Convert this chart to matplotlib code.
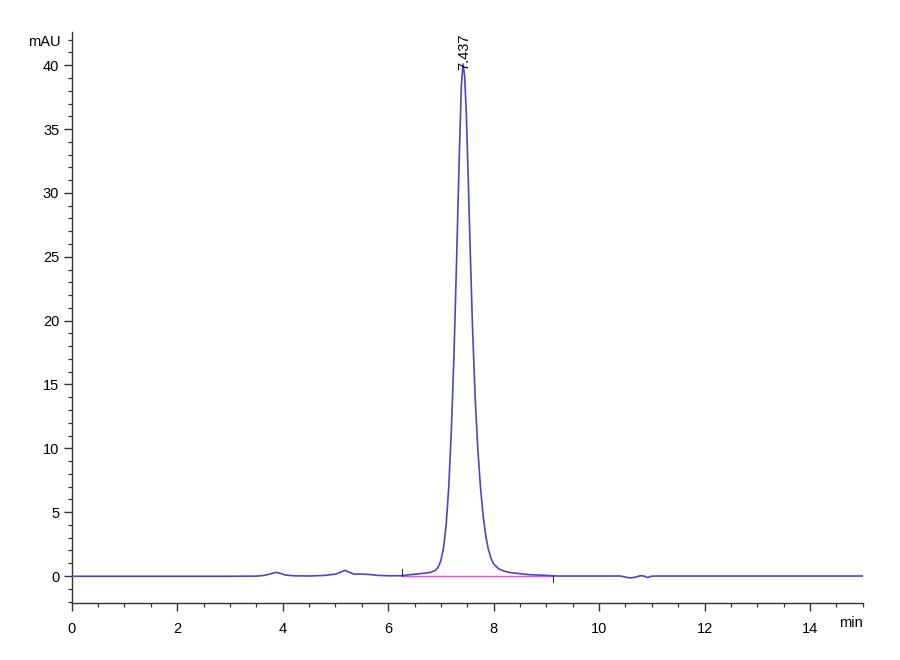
import matplotlib
matplotlib.use("Agg")
import matplotlib.pyplot as plt
from matplotlib.ticker import MultipleLocator

# Chromatogram trace (time in min, signal in mAU)
time_min = [0.0, 1.0, 2.0, 3.0, 3.5, 3.65, 3.78, 3.87, 3.95, 4.05, 4.2, 4.5,
            4.8, 5.0, 5.1, 5.18, 5.25, 5.35, 5.5, 5.65, 5.8, 6.0, 6.25,
            6.4, 6.6, 6.8, 6.9, 6.95, 7.0, 7.05, 7.1, 7.15, 7.2, 7.25, 7.3,
            7.35, 7.39, 7.42, 7.45, 7.48, 7.52, 7.56, 7.6, 7.65, 7.7, 7.75,
            7.8, 7.85, 7.9, 7.95, 8.0, 8.1, 8.2, 8.3, 8.5, 8.7, 9.0, 9.2,
            10.4, 10.5, 10.58, 10.68, 10.78, 10.85, 10.92, 10.98, 11.1, 15.0]
signal_mau = [-0.02, -0.02, -0.02, -0.02, -0.01, 0.05, 0.18, 0.28, 0.22, 0.08, 0.02, 0.0,
              0.05, 0.15, 0.3, 0.45, 0.32, 0.15, 0.15, 0.12, 0.05, 0.02, 0.02,
              0.1, 0.18, 0.28, 0.45, 0.7, 1.2, 2.2, 4.0, 7.0, 11.5, 17.5, 25.0,
              33.0, 38.5, 40.1, 39.2, 36.5, 31.0, 25.0, 19.5, 14.0, 10.0, 7.0,
              4.8, 3.2, 2.1, 1.4, 0.95, 0.55, 0.38, 0.28, 0.18, 0.1, 0.05, 0.0,
              0.0, -0.08, -0.15, -0.1, 0.02, 0.0, -0.12, -0.02, 0.0, 0.0]

# Integration baseline and peak annotation
baseline_time = [6.26, 9.12]
baseline_mau = [0.03, 0.03]
peak_rt = 7.437
peak_label = "7.437"

x_ticks = [0, 2, 4, 6, 8, 10, 12, 14]
y_ticks = [0, 5, 10, 15, 20, 25, 30, 35, 40]

FONT = ['Liberation Sans Narrow', 'Liberation Sans', 'DejaVu Sans']
plt.rcParams['font.family'] = FONT

fig = plt.figure(figsize=(9, 6.6), dpi=100)
ax = fig.add_axes([0.0797, 0.0868, 0.9586 - 0.0797, 0.9515 - 0.0868])

ax.plot(baseline_time, baseline_mau, color='#ff44ff', lw=1.0, zorder=2)
ax.plot(time_min, signal_mau, color='#4848c4', lw=1.2, zorder=3)

# integration markers
ax.plot([baseline_time[0], baseline_time[0]], [0.0, 0.55], color='#333333', lw=0.8, zorder=4)
ax.plot([baseline_time[1], baseline_time[1]], [0.0, -0.45], color='#333333', lw=0.8, zorder=4)

ax.text(peak_rt, 39.6, peak_label, rotation=90, ha='center', va='bottom',
        fontsize=10.5, color='black')

ax.set_xlim(0, 15)
ax.set_ylim(-2.09, 42.6)
ax.set_xticks(x_ticks)
ax.set_yticks(y_ticks)
ax.xaxis.set_minor_locator(MultipleLocator(0.5))
ax.yaxis.set_minor_locator(MultipleLocator(1))

for s in ['top', 'right']:
    ax.spines[s].set_visible(False)
for s in ['left', 'bottom']:
    ax.spines[s].set_color('#333333')
    ax.spines[s].set_linewidth(1.0)

ax.tick_params(axis='both', which='major', direction='out', length=6, width=1.0,
               colors='#333333', labelsize=10.5, labelcolor='black')
ax.tick_params(axis='both', which='minor', direction='out', length=3, width=0.9,
               colors='#333333')
ax.tick_params(axis='x', which='major', pad=8)
ax.tick_params(axis='y', which='major', pad=3)

fig.text(61 / 900, 1 - 42.5 / 660, 'mAU', ha='right', va='center', fontsize=10.5)
fig.text(862.7 / 900, 1 - 623 / 660, 'min', ha='right', va='center', fontsize=10.5)

fig.savefig('out.png', dpi=100, facecolor='white')
